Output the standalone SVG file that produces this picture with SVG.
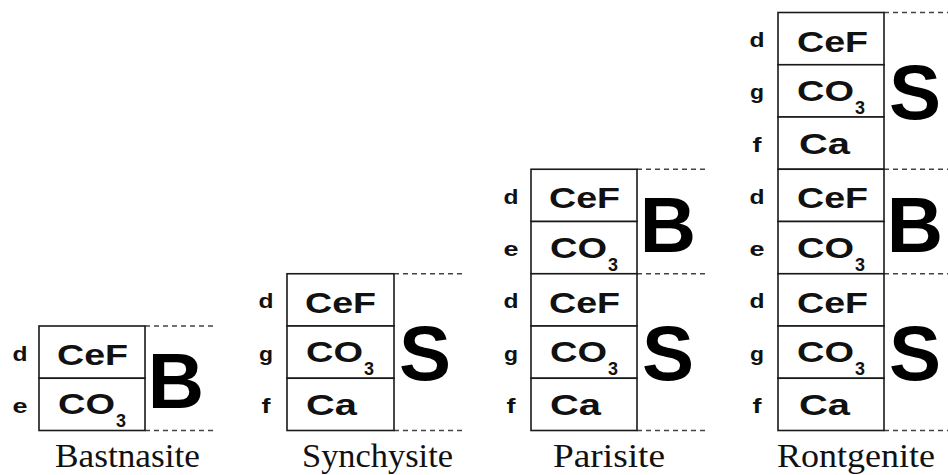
<svg xmlns="http://www.w3.org/2000/svg" width="948" height="475" viewBox="0 0 948 475">
<style>
.cell{fill:#fff;stroke:#1a1a1a;stroke-width:1.6}
.lbl{font-family:"Liberation Sans",Arial,sans-serif;font-weight:bold;font-size:20px;fill:#111;text-anchor:middle}
.chem{font-family:"Liberation Sans",Arial,sans-serif;font-weight:bold;font-size:30px;fill:#111}
.sub{font-family:"Liberation Sans",Arial,sans-serif;font-weight:bold;font-size:18px;fill:#111}
.big{font-family:"Liberation Sans",Arial,sans-serif;font-weight:bold;font-size:78px;fill:#000;text-anchor:middle}
.cap{font-family:"Liberation Serif","Times New Roman",serif;font-size:33px;fill:#111}
.dash{stroke:#444;stroke-width:1.4;stroke-dasharray:5 4;fill:none}
</style>

<g id="connectors">
<line class="dash" x1="145" y1="326" x2="215" y2="326"/>
<line class="dash" x1="145" y1="430.5" x2="215" y2="430.5"/>
<line class="dash" x1="394" y1="273.75" x2="465" y2="273.75"/>
<line class="dash" x1="394" y1="430.5" x2="465" y2="430.5"/>
<line class="dash" x1="637" y1="169.25" x2="708" y2="169.25"/>
<line class="dash" x1="637" y1="273.75" x2="708" y2="273.75"/>
<line class="dash" x1="637" y1="430.5" x2="708" y2="430.5"/>
<line class="dash" x1="884" y1="12.5" x2="948" y2="12.5"/>
<line class="dash" x1="884" y1="169.25" x2="948" y2="169.25"/>
<line class="dash" x1="884" y1="273.75" x2="948" y2="273.75"/>
<line class="dash" x1="884" y1="430.5" x2="948" y2="430.5"/>
</g>

<g id="bastnasite">
<rect class="cell" x="39" y="326" width="106" height="52.25"/>
<rect class="cell" x="39" y="378.25" width="106" height="52.25"/>
<text class="lbl" x="20" y="360.6" textLength="15" lengthAdjust="spacingAndGlyphs">d</text>
<text class="lbl" x="20" y="412.9" textLength="15" lengthAdjust="spacingAndGlyphs">e</text>
<text class="chem" x="57" y="365.1" textLength="71" lengthAdjust="spacingAndGlyphs">CeF</text>
<text class="chem" x="58" y="414.4" textLength="57" lengthAdjust="spacingAndGlyphs">CO</text>
<text class="sub" x="116" y="427.4" textLength="10" lengthAdjust="spacingAndGlyphs">3</text>
<text class="big" x="176" y="408.3">B</text>
<text class="cap" x="55" y="467" textLength="145" lengthAdjust="spacingAndGlyphs">Bastnasite</text>
</g>

<g id="synchysite">
<rect class="cell" x="287" y="273.75" width="107" height="52.25"/>
<rect class="cell" x="287" y="326" width="107" height="52.25"/>
<rect class="cell" x="287" y="378.25" width="107" height="52.25"/>
<text class="lbl" x="266" y="308.4" textLength="15" lengthAdjust="spacingAndGlyphs">d</text>
<text class="lbl" x="266" y="360.6" textLength="14" lengthAdjust="spacingAndGlyphs">g</text>
<text class="lbl" x="266" y="412.9" textLength="9" lengthAdjust="spacingAndGlyphs">f</text>
<text class="chem" x="305" y="312.9" textLength="71" lengthAdjust="spacingAndGlyphs">CeF</text>
<text class="chem" x="306" y="362.1" textLength="57" lengthAdjust="spacingAndGlyphs">CO</text>
<text class="sub" x="364" y="375.1" textLength="10" lengthAdjust="spacingAndGlyphs">3</text>
<text class="chem" x="306" y="414.9" textLength="51" lengthAdjust="spacingAndGlyphs">Ca</text>
<text class="big" x="425" y="380">S</text>
<text class="cap" x="302" y="467" textLength="151" lengthAdjust="spacingAndGlyphs">Synchysite</text>
</g>

<g id="parisite">
<rect class="cell" x="531" y="169.25" width="106" height="52.25"/>
<rect class="cell" x="531" y="221.5" width="106" height="52.25"/>
<rect class="cell" x="531" y="273.75" width="106" height="52.25"/>
<rect class="cell" x="531" y="326" width="106" height="52.25"/>
<rect class="cell" x="531" y="378.25" width="106" height="52.25"/>
<text class="lbl" x="511" y="203.9" textLength="15" lengthAdjust="spacingAndGlyphs">d</text>
<text class="lbl" x="511" y="256.1" textLength="15" lengthAdjust="spacingAndGlyphs">e</text>
<text class="lbl" x="511" y="308.4" textLength="15" lengthAdjust="spacingAndGlyphs">d</text>
<text class="lbl" x="511" y="360.6" textLength="14" lengthAdjust="spacingAndGlyphs">g</text>
<text class="lbl" x="511" y="412.9" textLength="9" lengthAdjust="spacingAndGlyphs">f</text>
<text class="chem" x="549" y="208.4" textLength="71" lengthAdjust="spacingAndGlyphs">CeF</text>
<text class="chem" x="550" y="257.6" textLength="57" lengthAdjust="spacingAndGlyphs">CO</text>
<text class="sub" x="608" y="270.6" textLength="10" lengthAdjust="spacingAndGlyphs">3</text>
<text class="chem" x="549" y="312.9" textLength="71" lengthAdjust="spacingAndGlyphs">CeF</text>
<text class="chem" x="550" y="362.1" textLength="57" lengthAdjust="spacingAndGlyphs">CO</text>
<text class="sub" x="608" y="375.1" textLength="10" lengthAdjust="spacingAndGlyphs">3</text>
<text class="chem" x="550" y="414.9" textLength="51" lengthAdjust="spacingAndGlyphs">Ca</text>
<text class="big" x="668" y="251.5">B</text>
<text class="big" x="668" y="380">S</text>
<text class="cap" x="553" y="467" textLength="112" lengthAdjust="spacingAndGlyphs">Parisite</text>
</g>

<g id="rontgenite">
<rect class="cell" x="778" y="12.5" width="106" height="52.25"/>
<rect class="cell" x="778" y="64.75" width="106" height="52.25"/>
<rect class="cell" x="778" y="117" width="106" height="52.25"/>
<rect class="cell" x="778" y="169.25" width="106" height="52.25"/>
<rect class="cell" x="778" y="221.5" width="106" height="52.25"/>
<rect class="cell" x="778" y="273.75" width="106" height="52.25"/>
<rect class="cell" x="778" y="326" width="106" height="52.25"/>
<rect class="cell" x="778" y="378.25" width="106" height="52.25"/>
<text class="lbl" x="757" y="47.1" textLength="15" lengthAdjust="spacingAndGlyphs">d</text>
<text class="lbl" x="757" y="99.4" textLength="14" lengthAdjust="spacingAndGlyphs">g</text>
<text class="lbl" x="757" y="151.6" textLength="9" lengthAdjust="spacingAndGlyphs">f</text>
<text class="lbl" x="757" y="203.9" textLength="15" lengthAdjust="spacingAndGlyphs">d</text>
<text class="lbl" x="757" y="256.1" textLength="15" lengthAdjust="spacingAndGlyphs">e</text>
<text class="lbl" x="757" y="308.4" textLength="15" lengthAdjust="spacingAndGlyphs">d</text>
<text class="lbl" x="757" y="360.6" textLength="14" lengthAdjust="spacingAndGlyphs">g</text>
<text class="lbl" x="757" y="412.9" textLength="9" lengthAdjust="spacingAndGlyphs">f</text>
<text class="chem" x="797" y="51.6" textLength="71" lengthAdjust="spacingAndGlyphs">CeF</text>
<text class="chem" x="797" y="100.9" textLength="57" lengthAdjust="spacingAndGlyphs">CO</text>
<text class="sub" x="855" y="113.9" textLength="10" lengthAdjust="spacingAndGlyphs">3</text>
<text class="chem" x="799" y="153.6" textLength="51" lengthAdjust="spacingAndGlyphs">Ca</text>
<text class="chem" x="797" y="208.4" textLength="71" lengthAdjust="spacingAndGlyphs">CeF</text>
<text class="chem" x="797" y="257.6" textLength="57" lengthAdjust="spacingAndGlyphs">CO</text>
<text class="sub" x="855" y="270.6" textLength="10" lengthAdjust="spacingAndGlyphs">3</text>
<text class="chem" x="797" y="312.9" textLength="71" lengthAdjust="spacingAndGlyphs">CeF</text>
<text class="chem" x="797" y="362.1" textLength="57" lengthAdjust="spacingAndGlyphs">CO</text>
<text class="sub" x="855" y="375.1" textLength="10" lengthAdjust="spacingAndGlyphs">3</text>
<text class="chem" x="799" y="414.9" textLength="51" lengthAdjust="spacingAndGlyphs">Ca</text>
<text class="big" x="915" y="118.9">S</text>
<text class="big" x="915" y="251.5">B</text>
<text class="big" x="915" y="380">S</text>
<text class="cap" x="777" y="467" textLength="158" lengthAdjust="spacingAndGlyphs">Rontgenite</text>
</g>
</svg>
